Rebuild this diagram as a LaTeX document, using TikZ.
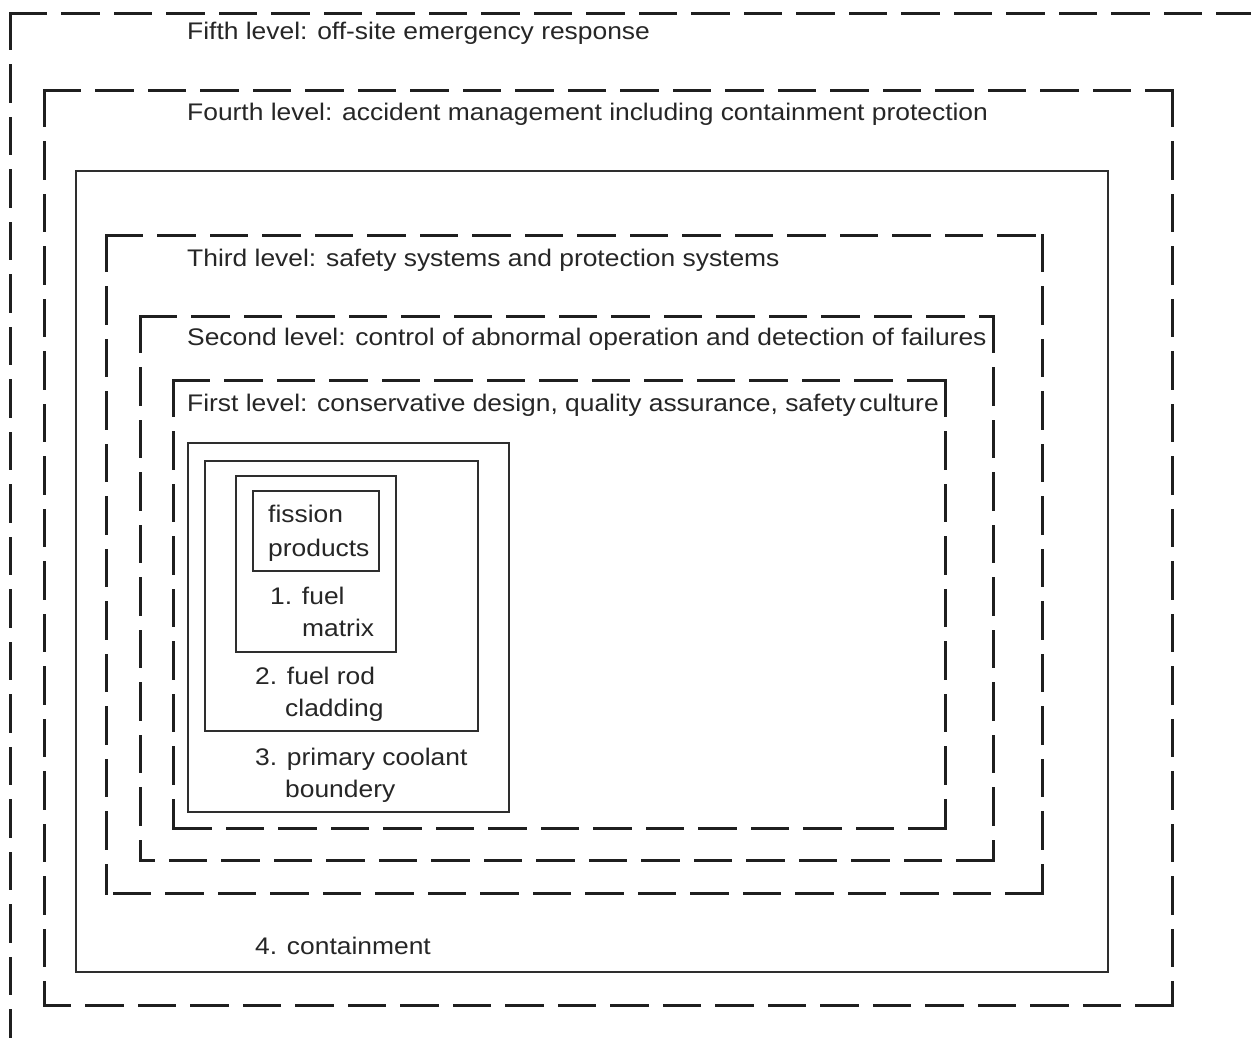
\documentclass[tikz,border=0pt]{standalone}
\usepackage{fontspec}
\setmainfont{Liberation Sans}[FakeStretch=1.1]

% dashed defence-level frame: left, top, right, bottom
\newcommand\levelbox[4]{%
  \draw[levelline] (#1,#2) -- (#3,#2);
  \draw[levelline] (#3,#2) -- (#3,#4);
  \draw[levelline] (#1,#2) -- (#1,#4);
  \draw[levelline] (#3,#4) -- (#1,#4);}

\begin{document}
\begin{tikzpicture}[x=1pt,y=-1pt,
  barrier/.style={draw=black!82, line width=2.4pt},
  levelline/.style={draw=black!88, line width=3pt, line cap=rect,
                    dash pattern=on 35.5pt off 17pt},
  lbl/.style={anchor=base west, inner sep=0pt, text=black!85,
              font=\fontsize{24}{28}\selectfont}]
\useasboundingbox (0,0) rectangle (1251,1037);
\clip (0,0) rectangle (1251,1037);
\fill[white] (0,0) rectangle (1251,1037);

% fifth level (runs past the page)
\draw[levelline] (10,13) -- (1275,13);
\draw[levelline] (10,13) -- (10,1060);
% fourth level
\levelbox{44}{90}{1172}{1005}
% containment
\draw[barrier] (76,171) rectangle (1108,972);
% third, second, first level
\levelbox{106}{235}{1042}{893}
\levelbox{140}{316}{993}{860}
\levelbox{173}{380}{945}{828}
% physical barriers
\draw[barrier] (188,443) rectangle (509,812);
\draw[barrier] (205,461) rectangle (478,731);
\draw[barrier] (236,476) rectangle (396,652);
\draw[barrier] (253,491) rectangle (379,571);

% level captions
\node[lbl] (l5) at (187,39)  {Fifth level: off-site emergency response};
\node[lbl] (l4) at (187,120) {Fourth level: accident management including containment protection};
\node[lbl] (l3) at (187,266) {Third level: safety systems and protection systems};
\node[lbl] (l2) at (187,345) {Second level: control of abnormal operation and detection of failures};
\node[lbl] (l1) at (187,411) {First level: conservative design, quality assurance, safety\hspace{-0.15em} culture};

% barrier captions
\node[lbl] (fp1) at (268,522) {fission};
\node[lbl] (fp2) at (268,556) {products};
\node[lbl] (fm1) at (270,604) {1. fuel};
\node[lbl] (fm2) at (302,636) {matrix};
\node[lbl] (fc1) at (255,684) {2. fuel rod};
\node[lbl] (fc2) at (285,716) {cladding};
\node[lbl] (pc1) at (255,765) {3. primary coolant};
\node[lbl] (pc2) at (285,797) {boundery};
\node[lbl] (ct)  at (255,954) {4. containment};
\end{tikzpicture}
\end{document}
